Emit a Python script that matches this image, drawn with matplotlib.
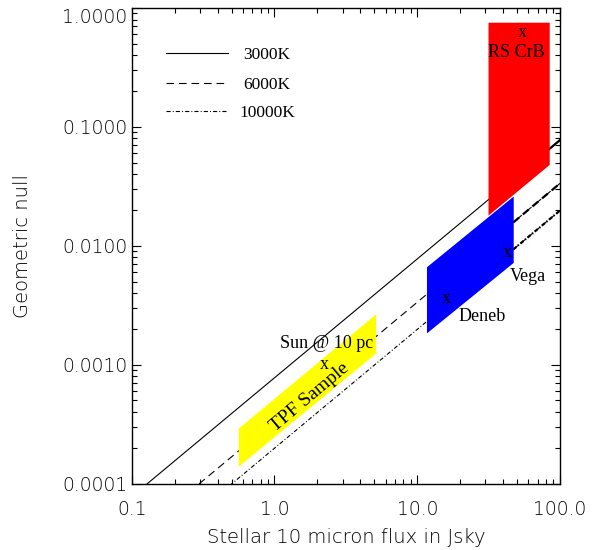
import numpy as np
import matplotlib
matplotlib.use('Agg')
import matplotlib.pyplot as plt

# model curves: null vs 10 micron flux for three stellar temperatures
line_flux = [0.1, 100.0]
null_3000K = [7.75e-5, 7.75e-2]
null_6000K = [3.35e-5, 3.35e-2]
null_10000K = [1.98e-5, 1.98e-2]

# right-hand part of the curves is drawn heavier in the original
bold_flux = [47.0, 100.0]
bold_3000K = [0.0364, 0.0775]
bold_6000K = [0.0157, 0.0335]
bold_10000K = [0.0093, 0.0198]

# shaded target regions (flux range, lower and upper null)
tpf_flux = [0.558, 5.1]
tpf_lo = [1.40e-4, 1.25e-3]
tpf_hi = [2.93e-4, 2.67e-3]

blue_flux = [11.6, 47.0]
blue_lo = [1.85e-3, 7.25e-3]
blue_hi = [6.66e-3, 2.62e-2]

red_flux = [31.3, 84.0]
red_lo = [0.0181, 0.0484]
red_hi = [0.76, 0.76]

# star markers and labels
stars = ['RS CrB', 'Vega', 'Deneb', 'TPF']
star_flux = [54.3, 42.7, 16.1, 2.22]
star_null = [0.624, 0.00873, 0.00361, 0.00101]
labels = ['RS CrB', 'Vega', 'Deneb', 'Sun @ 10 pc']
label_flux = [49.1, 60.0, 28.3, 2.32]
label_null = [0.424, 0.00548, 0.00253, 0.00151]

xticks = [0.1, 1.0, 10.0, 100.0]
xtick_labels = ['0.1', '1.0', '10.0', '100.0']
yticks = [1e-4, 1e-3, 1e-2, 1e-1, 1.0]
ytick_labels = ['0.0001', '0.0010', '0.0100', '0.1000', '1.0000']

temps = ['3000K', '6000K', '10000K']

plt.rcParams['lines.scale_dashes'] = False
sans = 'DejaVu Sans'
serif = 'Liberation Serif'

fig = plt.figure(figsize=(5.92, 5.50), dpi=100)
ax = fig.add_axes([0.2225, 0.1209, 0.7235, 0.8645])
ax.set_xscale('log')
ax.set_yscale('log')
ax.set_xlim(0.1, 100.0)
ax.set_ylim(1e-4, 1.0)

dash = (0, (5.5, 3.5))
dashdot = (0, (3.0, 1.5, 0.7, 1.5))
styles = ['-', dash, dashdot]

for ys, ls in zip([null_3000K, null_6000K, null_10000K], styles):
    ax.plot(line_flux, ys, color='k', lw=0.8, ls=ls, zorder=1)
for ys, ls in zip([bold_3000K, bold_6000K, bold_10000K], styles):
    ax.plot(bold_flux, ys, color='k', lw=1.6, ls=ls, zorder=1)

ax.fill_between(tpf_flux, tpf_lo, tpf_hi, color='#ffff00', lw=0, zorder=2)
ax.fill_between(blue_flux, blue_lo, blue_hi, color='#0000ff', lw=0, zorder=2)
ax.fill_between(red_flux, red_lo, red_hi, color='#ff0000', lw=0, zorder=2)

for fx, ny in zip(star_flux, star_null):
    ax.text(fx, ny, 'x', family=serif, fontsize=13, ha='center', va='center', zorder=3)
for lab, fx, ny in zip(labels, label_flux, label_null):
    ax.text(fx, ny, lab, family=serif, fontsize=13, ha='center', va='center', zorder=3)
ax.text(1.77, 5.31e-4, 'TPF Sample', family=serif, fontsize=14, rotation=40,
        ha='center', va='center', rotation_mode='anchor', zorder=3)

# legend drawn by hand, as in the original
leg_y = [0.906, 0.843, 0.783]
for t, ls, yy in zip(temps, styles, leg_y):
    ax.plot([0.080, 0.224], [yy, yy], transform=ax.transAxes, color='k', lw=0.8, ls=ls)
    ax.text(0.316, yy - 0.004, t, transform=ax.transAxes, family=serif, fontsize=12.5,
            ha='center', va='center')

ax.set_xticks(xticks, xtick_labels)
ax.set_yticks(yticks, ytick_labels)
ax.tick_params(which='both', direction='in', top=True, right=True, width=0.8, color='k')
ax.tick_params(which='major', length=6.5)
ax.tick_params(which='minor', length=3.5)
ax.tick_params(axis='x', pad=12)
ax.tick_params(axis='y', pad=3)
for lab in ax.get_xticklabels() + ax.get_yticklabels():
    lab.set_family(sans)
    lab.set_fontsize(13.5)
    lab.set_fontweight('light')
    lab.set_color('black')
ax.get_yticklabels()[-1].set_va('top')

for sp in ax.spines.values():
    sp.set_linewidth(1.0)

ax.set_xlabel('Stellar 10 micron flux in Jsky', family=sans, fontsize=14, labelpad=6,
              fontweight='light', color='black')
ax.set_ylabel('Geometric null', family=sans, fontsize=14, labelpad=22,
              fontweight='light', color='black')

fig.savefig('out.png', dpi=100)
